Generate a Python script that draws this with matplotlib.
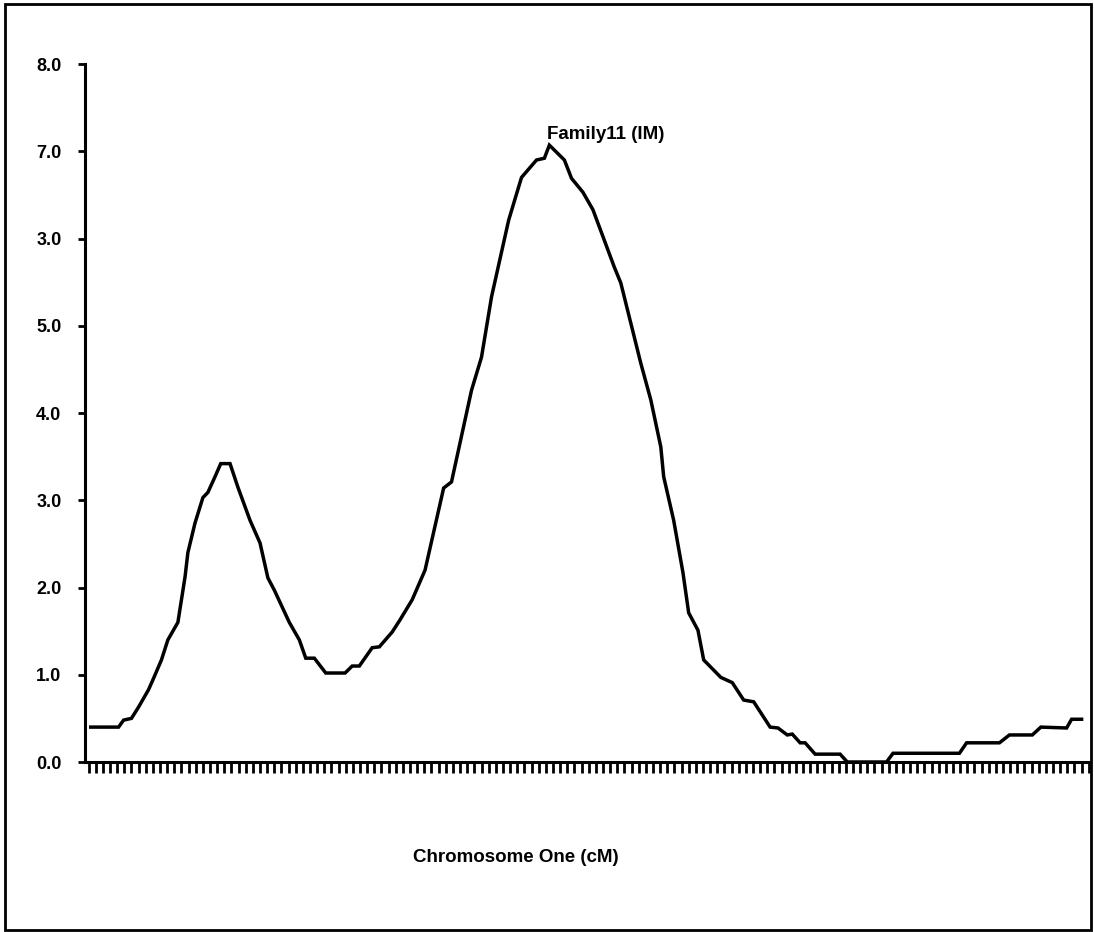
import matplotlib
matplotlib.use('Agg')
import matplotlib.pyplot as plt
from matplotlib.patches import Rectangle

# posicion (cM) y valor de la curva
posicion_cm = [0.3, 4.2, 4.9, 6.0, 7.0, 8.4, 9.1, 10.2, 11.1, 12.5, 13.5, 13.9,
               14.9, 16.0, 16.7, 17.7, 18.5, 19.8, 20.9, 22.6, 24.0, 25.1, 26.0,
               28.1, 29.5, 30.4, 31.6, 33.2, 35.9, 36.9, 37.9, 39.7, 40.7, 42.5,
               43.6, 45.3, 47.1, 49.7, 50.8, 53.6, 55.0, 56.4, 58.8, 60.6, 62.7,
               63.8, 64.5, 66.6, 67.6, 69.2, 70.6, 73.6, 74.5, 77.3, 78.7, 80.1,
               80.5, 81.9, 83.2, 84.0, 85.3, 86.1, 88.5, 90.1, 91.7, 93.1, 95.4,
               96.5, 97.8, 98.5, 99.6, 100.3, 101.7, 105.2, 106.2, 111.7, 112.6,
               121.9, 122.9, 127.5, 128.9, 132.1, 133.3, 136.9, 137.6, 139.0]
valor = [0.40, 0.40, 0.48, 0.50, 0.63, 0.83, 0.96, 1.17, 1.40, 1.60, 2.12, 2.40,
         2.74, 3.03, 3.09, 3.27, 3.42, 3.42, 3.15, 2.77, 2.51, 2.11, 1.97,
         1.60, 1.40, 1.19, 1.19, 1.02, 1.02, 1.10, 1.10, 1.31, 1.32, 1.49,
         1.63, 1.86, 2.20, 3.14, 3.21, 4.26, 4.64, 5.33, 6.21, 6.70, 6.90,
         6.92, 7.07, 6.90, 6.69, 6.53, 6.33, 5.67, 5.49, 4.57, 4.15, 3.61,
         3.27, 2.77, 2.17, 1.71, 1.51, 1.17, 0.97, 0.91, 0.71, 0.69, 0.40,
         0.39, 0.31, 0.32, 0.22, 0.22, 0.09, 0.09, 0.0, 0.0, 0.10,
         0.10, 0.22, 0.22, 0.31, 0.31, 0.40, 0.39, 0.49, 0.49]

y_ticks = [0, 1, 2, 3, 4, 5, 6, 7, 8]
y_etiquetas = ['0.0', '1.0', '2.0', '3.0', '4.0', '5.0', '3.0', '7.0', '8.0']
x_max = 140

plt.rcParams['font.family'] = ['Liberation Sans', 'DejaVu Sans']

fig = plt.figure(figsize=(10.94, 9.32), dpi=100)
ax = fig.add_axes([0.0777, 0.1824, 0.9175, 0.7489])

ax.plot(posicion_cm, valor, color='black', linewidth=2.5, solid_joinstyle='miter')
ax.annotate('Family11 (IM)', xy=(64.5, 7.07), xytext=(64.2, 7.1),
            fontsize=13.5, fontweight='bold', ha='left', va='bottom')

ax.set_xlim(-0.5, x_max)
ax.set_ylim(0, 8)
ax.set_yticks(y_ticks)
ax.set_yticklabels(y_etiquetas, fontsize=13, fontweight='bold')
ax.set_xticks(range(0, x_max + 1))
ax.set_xticklabels([])
ax.tick_params(axis='y', direction='out', length=5, width=2, pad=12)
ax.tick_params(axis='x', direction='out', length=8, width=2)

for lado in ['top', 'right']:
    ax.spines[lado].set_visible(False)
for lado in ['left', 'bottom']:
    ax.spines[lado].set_linewidth(2.2)

fig.text(516 / 1094, 1 - 858 / 932, 'Chromosome One (cM)', fontsize=13.5,
         fontweight='bold', ha='center', va='center')

fig.patches.append(Rectangle((0.005, 0.002), 0.992, 0.994, transform=fig.transFigure,
                             fill=False, edgecolor='black', linewidth=2))

fig.savefig('out.png', dpi=100)
